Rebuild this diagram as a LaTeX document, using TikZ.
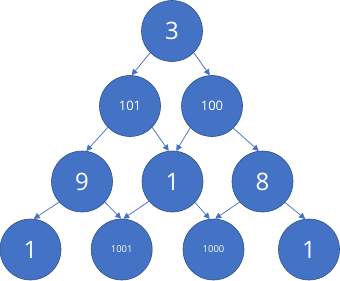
\documentclass[tikz,border=0pt]{standalone}
\usepackage{fontspec}
\setmainfont{Open Sans}
\usetikzlibrary{arrows.meta}
\definecolor{nfill}{HTML}{4472C4}
\definecolor{nline}{HTML}{2F528F}
\tikzset{
  tnode/.style={circle, fill=nfill, draw=nline, line width=0.6pt, minimum size=61pt, inner sep=0pt, text=white},
  big/.style={font=\fontsize{24}{24}\selectfont},
  mid/.style={font=\fontsize{13}{13}\selectfont},
  small/.style={font=\fontsize{9.5}{9.5}\selectfont},
  edge/.style={draw=nfill, line width=0.75pt, -{Triangle[length=6pt,width=6pt]}}
}
\begin{document}
\begin{tikzpicture}[x=1pt,y=-1pt]
\useasboundingbox (0,0) rectangle (340,281);
\node[tnode,big] (r) at (172,31) {3};
\node[tnode,mid] (a) at (130,106) {101};
\node[tnode,mid] (b) at (212,106) {100};
\node[tnode,big] (c) at (82,181.5) {9};
\node[tnode,big] (d) at (172.5,181.5) {1};
\node[tnode,big] (e) at (262.5,181.5) {8};
\node[tnode,big] (f) at (30.5,249.5) {1};
\node[tnode,small] (g) at (121.7,249.5) {1001};
\node[tnode,small] (h) at (213.5,249.5) {1000};
\node[tnode,big] (i) at (309,249.5) {1};
\draw[edge] (r.225) -- (a.87);
\draw[edge] (r.315) -- (b.94);
\draw[edge] (a.224) -- (c.82);
\draw[edge] (a.316) -- (d.97);
\draw[edge] (b.225) -- (d.83);
\draw[edge] (b.314) -- (e.97);
\draw[edge] (c.222) -- (f.84);
\draw[edge] (c.318) -- (g.91);
\draw[edge] (d.220) -- (g.87);
\draw[edge] (d.317) -- (h.97);
\draw[edge] (e.222) -- (h.87);
\draw[edge] (e.317) -- (i.97);
\end{tikzpicture}
\end{document}
